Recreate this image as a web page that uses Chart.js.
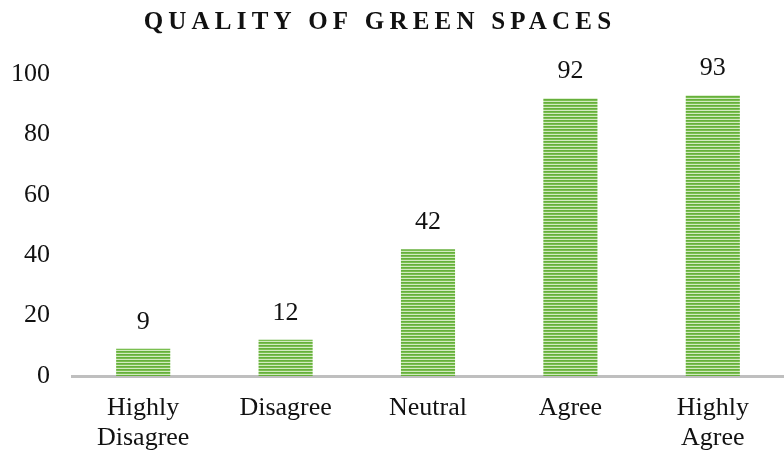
<!DOCTYPE html>
<html>
<head>
<meta charset="utf-8">
<script src="https://cdn.jsdelivr.net/npm/chart.js@4.4.1/dist/chart.umd.min.js"></script>
<style>
  html, body { margin: 0; padding: 0; background: #fff; }
  #wrap { width: 784px; height: 451px; }
</style>
</head>
<body>
<div id="wrap"><canvas id="chart"></canvas></div>
<script>
const categories = [['Highly', 'Disagree'], 'Disagree', 'Neutral', 'Agree', ['Highly', 'Agree']];
const responses = [9, 12, 42, 92, 93];
const yTicks = [0, 20, 40, 60, 80, 100];
const chartTitle = 'QUALITY OF GREEN SPACES';

const serif = '"Liberation Serif", "Times New Roman", serif';

// horizontal green stripes used to fill the bars
const makeStripes = () => {
    const c = document.createElement('canvas');
    c.width = 4;
    c.height = 3;
    const g = c.getContext('2d');
    g.fillStyle = '#66af3c';
    g.fillRect(0, 0, 4, 1);
    g.fillStyle = '#7abf50';
    g.fillRect(0, 1, 4, 1);
    g.fillStyle = '#d2eac0';
    g.fillRect(0, 2, 4, 1);
    return g.createPattern(c, 'repeat');
};

// spaced-out bold title across the top
const titlePlugin = {
    id: 'spacedTitle',
    afterDraw(chart) {
        const ctx = chart.ctx;
        ctx.save();
        ctx.font = 'bold 25px ' + serif;
        ctx.letterSpacing = '5.2px';
        ctx.fillStyle = '#111';
        ctx.textAlign = 'center';
        ctx.textBaseline = 'middle';
        ctx.fillText(chartTitle, 380, 23);
        ctx.restore();
    }
};

// value written above each bar
const valueLabels = {
    id: 'valueLabels',
    afterDatasetsDraw(chart) {
        const ctx = chart.ctx;
        const meta = chart.getDatasetMeta(0);
        ctx.save();
        ctx.font = '26px ' + serif;
        ctx.fillStyle = '#111';
        ctx.textAlign = 'center';
        ctx.textBaseline = 'middle';
        meta.data.forEach((bar, i) => {
            ctx.fillText(responses[i], bar.x, bar.y - 27);
        });
        ctx.restore();
    }
};

new Chart(document.getElementById('chart').getContext('2d'), {
    type: 'bar',
    data: {
        labels: categories,
        datasets: [{
            data: responses,
            backgroundColor: makeStripes(),
            borderWidth: 0,
            categoryPercentage: 1,
            barPercentage: 0.38
        }]
    },
    options: {
        responsive: true,
        maintainAspectRatio: false,
        animation: false,
        layout: { padding: { top: 74, right: 0, left: 0, bottom: 0 } },
        plugins: {
            legend: { display: false },
            title: { display: false },
            tooltip: { enabled: false }
        },
        scales: {
            x: {
                afterFit(axis) {
                    axis.height = 75;
                },
                grid: { display: false, drawTicks: false },
                border: { display: true, color: '#bfbfbf', width: 3 },
                ticks: {
                    color: '#111',
                    font: { family: serif, size: 26, lineHeight: 1.15 },
                    padding: 17,
                    maxRotation: 0
                }
            },
            y: {
                min: 0,
                max: 100,
                afterBuildTicks(axis) {
                    axis.ticks = yTicks.map(v => ({ value: v }));
                },
                afterFit(axis) {
                    axis.width = 72;
                },
                grid: { display: false, drawTicks: false },
                border: { display: false },
                ticks: {
                    color: '#111',
                    font: { family: serif, size: 26 },
                    padding: 22
                }
            }
        }
    },
    plugins: [titlePlugin, valueLabels]
});
</script>
</body>
</html>
